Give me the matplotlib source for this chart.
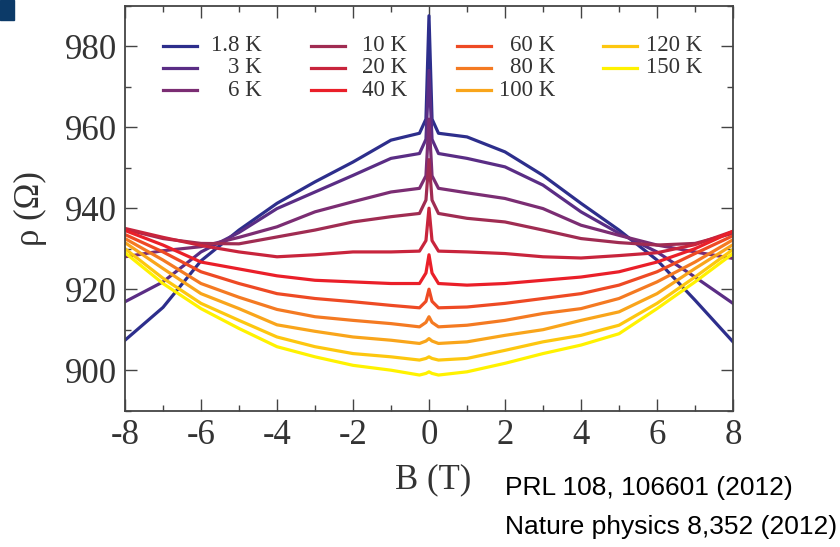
import matplotlib
matplotlib.use("Agg")
import matplotlib.pyplot as plt
from matplotlib.patches import Rectangle

plt.rcParams["axes.unicode_minus"] = False

# field values (T)
B = [-8, -7, -6, -5, -4, -3, -2, -1, -0.25, -0.08, 0, 0.08, 0.25, 1, 2, 3, 4, 5, 6, 7, 8]

# resistivity (Ohm) for each temperature
rho_1p8 = [907.4, 915.5, 927.0, 934.6, 941.2, 946.5, 951.4, 956.8, 958.5, 962.0, 987.5,
           962.0, 958.5, 957.6, 953.9, 948.1, 941.2, 934.6, 927.2, 917.3, 907.0]
rho_3 = [916.9, 921.8, 929.2, 934.0, 939.9, 944.0, 948.1, 952.3, 953.5, 957.0, 974.0,
         957.0, 953.5, 952.3, 950.2, 945.7, 939.1, 933.8, 929.2, 923.0, 916.5]
rho_6 = [928.0, 929.5, 930.5, 932.8, 935.4, 939.1, 941.6, 944.0, 944.9, 948.0, 962.0,
         948.0, 944.9, 943.8, 942.4, 939.9, 935.8, 933.3, 930.9, 929.2, 927.6]
rho_10 = [934.8, 932.5, 931.3, 931.2, 932.9, 934.6, 936.6, 937.9, 938.7, 942.0, 952.0,
          942.0, 938.7, 937.5, 936.6, 934.6, 932.5, 931.5, 930.9, 931.3, 933.8]
rho_20 = [935.0, 932.8, 930.8, 929.2, 928.0, 928.5, 929.2, 929.2, 929.4, 932.0, 940.0,
          932.0, 929.4, 929.2, 928.8, 928.0, 927.7, 928.3, 929.0, 931.0, 934.3]
rho_40 = [934.5, 930.9, 926.7, 925.0, 923.3, 922.2, 921.8, 921.4, 921.4, 924.0, 928.5,
          924.0, 921.4, 921.0, 921.4, 922.2, 923.0, 924.3, 926.7, 930.0, 934.3]
rho_60 = [933.5, 929.2, 924.3, 921.4, 918.9, 917.7, 916.9, 916.0, 915.4, 917.0, 920.0,
          917.0, 915.4, 915.6, 916.5, 917.7, 918.9, 921.0, 924.3, 928.8, 933.2]
rho_80 = [932.5, 927.2, 921.4, 918.0, 915.0, 913.2, 912.3, 911.5, 910.7, 911.8, 913.2,
          911.8, 910.7, 911.1, 912.3, 914.0, 915.2, 917.7, 921.8, 926.7, 932.2]
rho_100 = [931.5, 925.1, 918.9, 915.2, 911.2, 909.6, 908.2, 907.4, 906.6, 907.2, 907.8,
           907.2, 906.6, 907.0, 908.6, 910.0, 912.3, 914.4, 918.9, 925.1, 931.0]
rho_120 = [930.0, 922.7, 916.5, 912.3, 908.2, 905.8, 904.1, 903.3, 902.5, 902.9, 903.3,
           902.9, 902.5, 902.9, 904.9, 907.0, 908.6, 911.1, 916.5, 923.0, 929.8]
rho_150 = [929.0, 921.4, 915.2, 910.3, 905.8, 903.3, 901.2, 900.0, 898.8, 899.2, 899.6,
           899.2, 898.8, 899.6, 901.7, 904.1, 906.2, 909.0, 915.2, 921.8, 928.8]

labels = ["1.8 K", "3 K", "6 K", "10 K", "20 K", "40 K",
          "60 K", "80 K", "100 K", "120 K", "150 K"]
series = [rho_1p8, rho_3, rho_6, rho_10, rho_20, rho_40,
          rho_60, rho_80, rho_100, rho_120, rho_150]
colors = ["#2d2e8c", "#5a2d85", "#7b2d73", "#a02c52", "#c8243c", "#ea1f29",
          "#ee4a24", "#f47a22", "#f9a51b", "#fdc70f", "#fff200"]

serif = "Liberation Serif"
fig = plt.figure(figsize=(8.4, 5.47), dpi=100)
ax = fig.add_axes([0.1488, 0.2492, 0.7238, 0.7404])

for y, c in zip(series, colors):
    ax.plot(B, y, color=c, lw=2.3, solid_joinstyle="round")

ax.set_xlim(-8, 8)
ax.set_ylim(890, 990)
ax.set_xticks(range(-8, 9, 2))
ax.set_xticks(range(-8, 9, 1), minor=True)
ax.set_yticks(range(900, 981, 20))
ax.set_yticks(range(890, 991, 10), minor=True)
ax.tick_params(which="both", direction="in", top=True, right=True,
               color="#444444", width=1.0)
ax.tick_params(which="major", length=8.5, labelsize=25, labelcolor="#333333", pad=6)
ax.tick_params(which="minor", length=4)
for lab in ax.get_xticklabels() + ax.get_yticklabels():
    lab.set_family(serif)
for s in ax.spines.values():
    s.set_color("#444444")
    s.set_linewidth(1.3)

ax.set_xlabel("B (T)", family=serif, fontsize=25, color="#333333")
ax.xaxis.set_label_coords(0.507, -0.171)
ax.xaxis.label.set_va("center")
ax.set_ylabel("\u03c1 (\u03a9)", family=serif, fontsize=25, color="#333333")
ax.yaxis.set_label_coords(-0.156, 0.50)
ax.yaxis.label.set_va("center")

# legend, 4 columns with right-aligned labels
col_line = [(0.0625, 0.1184), (0.3059, 0.3618), (0.5461, 0.6020), (0.7862, 0.8421)]
col_text = [0.2253, 0.4638, 0.7072, 0.9490]
rows = [0.9005, 0.8462, 0.7916]
for i, (lab, c) in enumerate(zip(labels, colors)):
    col, row = i // 3, i % 3
    x0, x1 = col_line[col]
    ax.plot([x0, x1], [rows[row], rows[row]], color=c, lw=2.3,
            transform=ax.transAxes, clip_on=False)
    ax.text(col_text[col], rows[row], lab, transform=ax.transAxes, ha="right",
            va="center", family=serif, fontsize=16.5, color="#333333")

fig.text(505 / 840, 1 - 488 / 547, "PRL 108, 106601 (2012)", family="Liberation Sans",
         fontsize=19, ha="left", va="center", color="black")
fig.text(505 / 840, 1 - 527 / 547, "Nature physics 8,352 (2012)", family="Liberation Sans",
         fontsize=19, ha="left", va="center", color="black")

fig.patches.append(Rectangle((0, 1 - 20 / 547), 14 / 840, 20 / 547,
                             transform=fig.transFigure, color="#0c3a68"))

fig.savefig("out.png", dpi=100)
